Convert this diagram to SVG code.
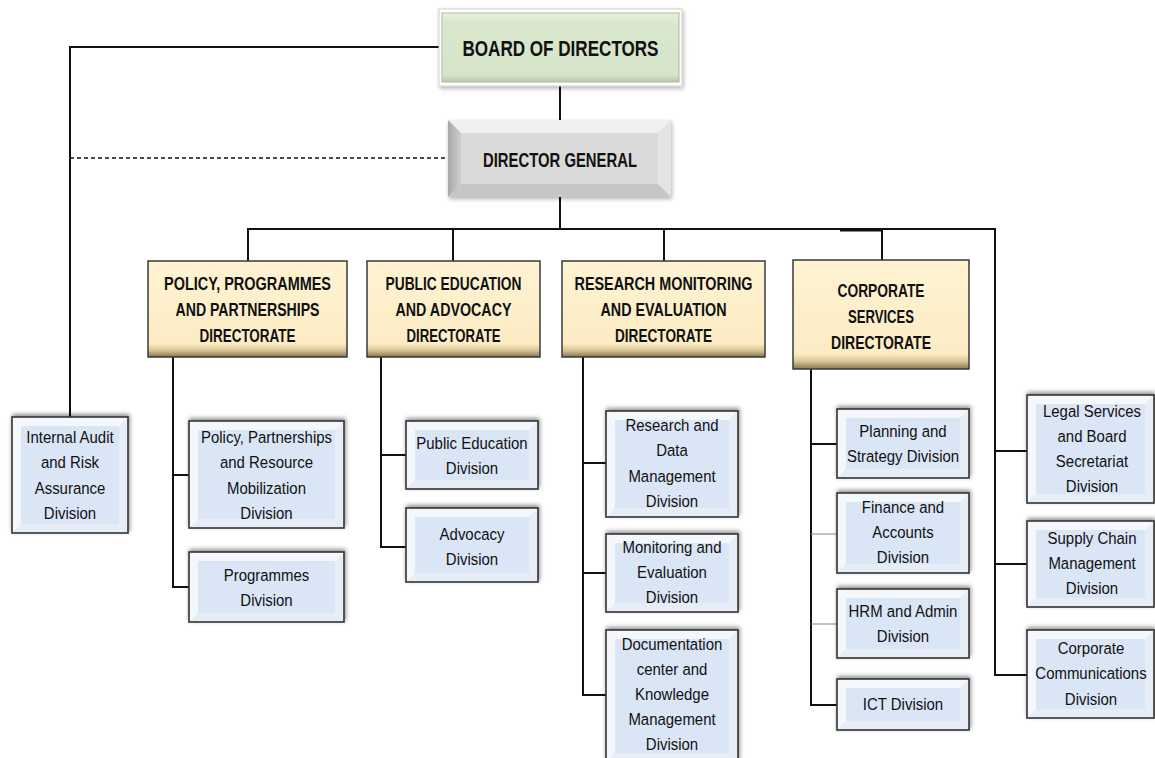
<svg xmlns="http://www.w3.org/2000/svg" width="1155" height="758" viewBox="0 0 1155 758">
<defs>
<filter id="sh" x="-10%" y="-20%" width="120%" height="140%"><feDropShadow dx="1" dy="-2" stdDeviation="2" flood-color="#000" flood-opacity="0.45"/></filter>
<filter id="sh2" x="-10%" y="-20%" width="120%" height="140%"><feDropShadow dx="1" dy="2" stdDeviation="2" flood-color="#000" flood-opacity="0.3"/></filter>
<linearGradient id="gold" x1="0" y1="0" x2="0" y2="1">
<stop offset="0" stop-color="#fff3d2"/><stop offset="0.86" stop-color="#fcecc4"/><stop offset="0.93" stop-color="#d8c595"/><stop offset="1" stop-color="#857450"/>
</linearGradient>
<linearGradient id="green" x1="0" y1="0" x2="0" y2="1">
<stop offset="0" stop-color="#e6f0dd"/><stop offset="0.15" stop-color="#d9e7cd"/><stop offset="0.9" stop-color="#d6e4c9"/><stop offset="1" stop-color="#b7c9a6"/>
</linearGradient>
<linearGradient id="dgleft" x1="0" y1="0" x2="1" y2="0">
<stop offset="0" stop-color="#a8a8a8"/><stop offset="1" stop-color="#cfcfcf"/>
</linearGradient>
</defs>
<style>
.ln{fill:none;stroke:#111;stroke-width:2}
.thin{fill:none;stroke:#8a8a8a;stroke-width:1.2}
.dash{fill:none;stroke:#111;stroke-width:1.4;stroke-dasharray:4 3}
.bo{fill:#e6edf7}
.bl{fill:#f4f7fc}
.bi{fill:#dae5f6}
.bb{fill:none;stroke:#333;stroke-width:1.6}
.dir{fill:url(#gold);stroke:#3a3a3a;stroke-width:1.5}
.t{font-family:"Liberation Sans",Arial,sans-serif;font-size:17px;fill:#111;text-anchor:middle}
.h{font-family:"Liberation Sans",Arial,sans-serif;font-size:17.5px;font-weight:bold;fill:#111;text-anchor:middle}
.big{font-family:"Liberation Sans",Arial,sans-serif;font-weight:bold;fill:#111;text-anchor:middle}
</style>

<g id="connectors">
<path class="ln" d="M560,86 V120"/>
<path class="ln" d="M439,47 H70 V417"/>
<path class="dash" d="M70,158 H448"/>
<path class="ln" d="M560,197 V229"/>
<path class="ln" d="M248,261 V229 H882"/>
<path d="M840,230 H882" fill="none" stroke="#111" stroke-width="3"/>
<path class="ln" d="M882,229 H995 V675 H1027" stroke-width="1.8"/>
<path class="ln" d="M453,229 V261"/>
<path class="ln" d="M664,229 V261"/>
<path class="ln" d="M882,229 V260"/>
<path class="ln" d="M173,357 V587 H189 M173,475 H189"/>
<path class="ln" d="M381,357 V547 H406 M381,455 H406"/>
<path class="ln" d="M583,357 V695 H606 M583,463 H606 M583,573 H606"/>
<path class="ln" d="M811,369 V705 H837 M811,444 H837"/>
<path class="thin" d="M811,534 H837 M811,624 H837"/>
<path class="ln" d="M995,451 H1027 M995,564 H1027"/>
</g>

<g id="board">
<rect x="439" y="9" width="243" height="77" fill="#fff" stroke="#d0d0d0" filter="url(#sh2)"/>
<rect x="442" y="13" width="237" height="69" fill="url(#green)" stroke="#a9bd98"/>
<text class="big" x="560.5" y="56" font-size="22" textLength="196" lengthAdjust="spacingAndGlyphs">BOARD OF DIRECTORS</text>
</g>

<g id="director-general">
<g filter="url(#sh2)">
<polygon points="448,120 671,120 658,133 461,133" fill="#f0f0f0"/>
<polygon points="448,120 461,133 461,184 448,197" fill="url(#dgleft)"/>
<polygon points="671,120 671,197 658,184 658,133" fill="#e4e4e4"/>
<polygon points="448,197 461,184 658,184 671,197" fill="#c6c6c6"/>
<rect x="461" y="133" width="197" height="51" fill="#dadada"/>
</g>
<text class="big" x="560" y="167" font-size="20" textLength="154" lengthAdjust="spacingAndGlyphs">DIRECTOR GENERAL</text>
</g>

<g id="dir-policy">
<rect class="dir" x="148" y="261" width="199" height="96"/>
<text class="h" x="247.5" y="290" textLength="167" lengthAdjust="spacingAndGlyphs">POLICY, PROGRAMMES</text>
<text class="h" x="247.5" y="316" textLength="144" lengthAdjust="spacingAndGlyphs">AND PARTNERSHIPS</text>
<text class="h" x="247.5" y="342" textLength="96" lengthAdjust="spacingAndGlyphs">DIRECTORATE</text>
</g>
<g id="dir-public-education">
<rect class="dir" x="367" y="261" width="173" height="96"/>
<text class="h" x="453.5" y="290" textLength="136" lengthAdjust="spacingAndGlyphs">PUBLIC EDUCATION</text>
<text class="h" x="453.5" y="316" textLength="116" lengthAdjust="spacingAndGlyphs">AND ADVOCACY</text>
<text class="h" x="453.5" y="342" textLength="94" lengthAdjust="spacingAndGlyphs">DIRECTORATE</text>
</g>
<g id="dir-research">
<rect class="dir" x="562" y="261" width="203" height="96"/>
<text class="h" x="663.5" y="290" textLength="178" lengthAdjust="spacingAndGlyphs">RESEARCH MONITORING</text>
<text class="h" x="663.5" y="316" textLength="126" lengthAdjust="spacingAndGlyphs">AND EVALUATION</text>
<text class="h" x="663.5" y="342" textLength="97" lengthAdjust="spacingAndGlyphs">DIRECTORATE</text>
</g>
<g id="dir-corporate">
<rect class="dir" x="793" y="260" width="176" height="109"/>
<text class="h" x="881" y="297" textLength="87" lengthAdjust="spacingAndGlyphs">CORPORATE</text>
<text class="h" x="881" y="323" textLength="66" lengthAdjust="spacingAndGlyphs">SERVICES</text>
<text class="h" x="881" y="349" textLength="100" lengthAdjust="spacingAndGlyphs">DIRECTORATE</text>
</g>

<g id="div-internal-audit">
<g filter="url(#sh)"><rect class="bo" x="12" y="417" width="116" height="116"/><polygon class="bl" points="12,417 128,417 119,426 21,426 21,524 12,533"/><rect class="bi" x="21" y="426" width="98" height="98"/><rect class="bb" x="12" y="417" width="116" height="116"/></g>
<g transform="translate(70 0) scale(0.88 1)"><text class="t" x="0" y="443">Internal Audit</text><text class="t" x="0" y="468">and Risk</text><text class="t" x="0" y="494">Assurance</text><text class="t" x="0" y="519">Division</text></g>
</g>

<g id="div-policy-partnerships">
<g filter="url(#sh)"><rect class="bo" x="189" y="421" width="155" height="107"/><polygon class="bl" points="189,421 344,421 335,430 198,430 198,519 189,528"/><rect class="bi" x="198" y="430" width="137" height="89"/><rect class="bb" x="189" y="421" width="155" height="107"/></g>
<g transform="translate(266.5 0) scale(0.88 1)"><text class="t" x="0" y="443">Policy, Partnerships</text><text class="t" x="0" y="468">and Resource</text><text class="t" x="0" y="494">Mobilization</text><text class="t" x="0" y="519">Division</text></g>
</g>

<g id="div-programmes">
<g filter="url(#sh)"><rect class="bo" x="189" y="552" width="155" height="70"/><polygon class="bl" points="189,552 344,552 335,561 198,561 198,613 189,622"/><rect class="bi" x="198" y="561" width="137" height="52"/><rect class="bb" x="189" y="552" width="155" height="70"/></g>
<g transform="translate(266.5 0) scale(0.88 1)"><text class="t" x="0" y="581">Programmes</text><text class="t" x="0" y="606">Division</text></g>
</g>

<g id="div-public-education">
<g filter="url(#sh)"><rect class="bo" x="406" y="421" width="132" height="68"/><polygon class="bl" points="406,421 538,421 529,430 415,430 415,480 406,489"/><rect class="bi" x="415" y="430" width="114" height="50"/><rect class="bb" x="406" y="421" width="132" height="68"/></g>
<g transform="translate(472 0) scale(0.88 1)"><text class="t" x="0" y="449">Public Education</text><text class="t" x="0" y="474">Division</text></g>
</g>

<g id="div-advocacy">
<g filter="url(#sh)"><rect class="bo" x="406" y="508" width="132" height="74"/><polygon class="bl" points="406,508 538,508 529,517 415,517 415,573 406,582"/><rect class="bi" x="415" y="517" width="114" height="56"/><rect class="bb" x="406" y="508" width="132" height="74"/></g>
<g transform="translate(472 0) scale(0.88 1)"><text class="t" x="0" y="540">Advocacy</text><text class="t" x="0" y="565">Division</text></g>
</g>

<g id="div-research-data">
<g filter="url(#sh)"><rect class="bo" x="606" y="411" width="132" height="106"/><polygon class="bl" points="606,411 738,411 729,420 615,420 615,508 606,517"/><rect class="bi" x="615" y="420" width="114" height="88"/><rect class="bb" x="606" y="411" width="132" height="106"/></g>
<g transform="translate(672 0) scale(0.88 1)"><text class="t" x="0" y="431">Research and</text><text class="t" x="0" y="456">Data</text><text class="t" x="0" y="482">Management</text><text class="t" x="0" y="507">Division</text></g>
</g>

<g id="div-monitoring">
<g filter="url(#sh)"><rect class="bo" x="606" y="534" width="132" height="78"/><polygon class="bl" points="606,534 738,534 729,543 615,543 615,603 606,612"/><rect class="bi" x="615" y="543" width="114" height="60"/><rect class="bb" x="606" y="534" width="132" height="78"/></g>
<g transform="translate(672 0) scale(0.88 1)"><text class="t" x="0" y="553">Monitoring and</text><text class="t" x="0" y="578">Evaluation</text><text class="t" x="0" y="603">Division</text></g>
</g>

<g id="div-documentation">
<g filter="url(#sh)"><rect class="bo" x="606" y="630" width="132" height="132"/><polygon class="bl" points="606,630 738,630 729,639 615,639 615,753 606,762"/><rect class="bi" x="615" y="639" width="114" height="114"/><rect class="bb" x="606" y="630" width="132" height="132"/></g>
<g transform="translate(672 0) scale(0.88 1)"><text class="t" x="0" y="650">Documentation</text><text class="t" x="0" y="675">center and</text><text class="t" x="0" y="700">Knowledge</text><text class="t" x="0" y="725">Management</text><text class="t" x="0" y="750">Division</text></g>
</g>

<g id="div-planning">
<g filter="url(#sh)"><rect class="bo" x="837" y="409" width="132" height="69"/><polygon class="bl" points="837,409 969,409 960,418 846,418 846,469 837,478"/><rect class="bi" x="846" y="418" width="114" height="51"/><rect class="bb" x="837" y="409" width="132" height="69"/></g>
<g transform="translate(903 0) scale(0.88 1)"><text class="t" x="0" y="437">Planning and</text><text class="t" x="0" y="462">Strategy Division</text></g>
</g>

<g id="div-finance">
<g filter="url(#sh)"><rect class="bo" x="837" y="493" width="132" height="80"/><polygon class="bl" points="837,493 969,493 960,502 846,502 846,564 837,573"/><rect class="bi" x="846" y="502" width="114" height="62"/><rect class="bb" x="837" y="493" width="132" height="80"/></g>
<g transform="translate(903 0) scale(0.88 1)"><text class="t" x="0" y="513">Finance and</text><text class="t" x="0" y="538">Accounts</text><text class="t" x="0" y="563">Division</text></g>
</g>

<g id="div-hrm">
<g filter="url(#sh)"><rect class="bo" x="837" y="589" width="132" height="69"/><polygon class="bl" points="837,589 969,589 960,598 846,598 846,649 837,658"/><rect class="bi" x="846" y="598" width="114" height="51"/><rect class="bb" x="837" y="589" width="132" height="69"/></g>
<g transform="translate(903 0) scale(0.88 1)"><text class="t" x="0" y="617">HRM and Admin</text><text class="t" x="0" y="642">Division</text></g>
</g>

<g id="div-ict">
<g filter="url(#sh)"><rect class="bo" x="837" y="679" width="132" height="51"/><polygon class="bl" points="837,679 969,679 960,688 846,688 846,721 837,730"/><rect class="bi" x="846" y="688" width="114" height="33"/><rect class="bb" x="837" y="679" width="132" height="51"/></g>
<g transform="translate(903 0) scale(0.88 1)"><text class="t" x="0" y="710">ICT Division</text></g>
</g>

<g id="div-legal">
<g filter="url(#sh)"><rect class="bo" x="1027" y="395" width="127" height="108"/><polygon class="bl" points="1027,395 1154,395 1145,404 1036,404 1036,494 1027,503"/><rect class="bi" x="1036" y="404" width="109" height="90"/><rect class="bb" x="1027" y="395" width="127" height="108"/></g>
<g transform="translate(1092 0) scale(0.88 1)"><text class="t" x="0" y="417">Legal Services</text><text class="t" x="0" y="442">and Board</text><text class="t" x="0" y="467">Secretariat</text><text class="t" x="0" y="492">Division</text></g>
</g>

<g id="div-supply-chain">
<g filter="url(#sh)"><rect class="bo" x="1027" y="521" width="127" height="86"/><polygon class="bl" points="1027,521 1154,521 1145,530 1036,530 1036,598 1027,607"/><rect class="bi" x="1036" y="530" width="109" height="68"/><rect class="bb" x="1027" y="521" width="127" height="86"/></g>
<g transform="translate(1092 0) scale(0.88 1)"><text class="t" x="0" y="544">Supply Chain</text><text class="t" x="0" y="569">Management</text><text class="t" x="0" y="594">Division</text></g>
</g>

<g id="div-corporate-communications">
<g filter="url(#sh)"><rect class="bo" x="1027" y="630" width="127" height="88"/><polygon class="bl" points="1027,630 1154,630 1145,639 1036,639 1036,709 1027,718"/><rect class="bi" x="1036" y="639" width="109" height="70"/><rect class="bb" x="1027" y="630" width="127" height="88"/></g>
<g transform="translate(1091 0) scale(0.88 1)"><text class="t" x="0" y="654">Corporate</text><text class="t" x="0" y="679">Communications</text><text class="t" x="0" y="705">Division</text></g>
</g>
</svg>
